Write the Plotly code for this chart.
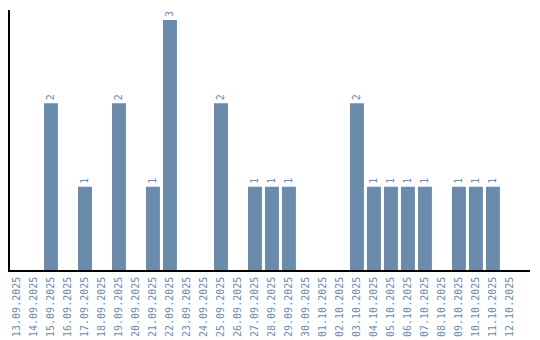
import plotly.graph_objects as go

dates = ["13.09.2025", "14.09.2025", "15.09.2025", "16.09.2025", "17.09.2025",
         "18.09.2025", "19.09.2025", "20.09.2025", "21.09.2025", "22.09.2025",
         "23.09.2025", "24.09.2025", "25.09.2025", "26.09.2025", "27.09.2025",
         "28.09.2025", "29.09.2025", "30.09.2025", "01.10.2025", "02.10.2025",
         "03.10.2025", "04.10.2025", "05.10.2025", "06.10.2025", "07.10.2025",
         "08.10.2025", "09.10.2025", "10.10.2025", "11.10.2025", "12.10.2025"]
counts = [0, 0, 2, 0, 1, 0, 2, 0, 1, 3, 0, 0, 2, 0, 1, 1, 1, 0, 0, 0,
          2, 1, 1, 1, 1, 0, 1, 1, 1, 0]

color = "#6a8bac"
labels = [str(v) if v > 0 else "" for v in counts]

fig = go.Figure(go.Bar(
    x=list(range(len(dates))), y=counts,
    marker=dict(color=color, line=dict(width=0)),
    width=0.82,
    text=labels, textposition="outside", textangle=-90,
    textfont=dict(family="DejaVu Sans Mono", size=10, color=color),
    cliponaxis=False,
))

fig.update_layout(
    width=540, height=340,
    margin=dict(l=10, r=10, t=10, b=70),
    plot_bgcolor="white", paper_bgcolor="white",
    showlegend=False,
    xaxis=dict(
        tickmode="array", tickvals=list(range(len(dates))), ticktext=dates,
        tickangle=-90, range=[-0.41, 30.18], automargin=False,
        tickfont=dict(family="DejaVu Sans Mono", size=10, color=color),
        showline=True, linecolor="black", linewidth=1.5,
        showgrid=False, zeroline=False, ticks="outside", ticklen=1,
        tickcolor="white",
    ),
    yaxis=dict(
        range=[0, 3.12], showticklabels=False, showgrid=False, zeroline=False,
        showline=True, linecolor="black", linewidth=1.5, ticks="",
        automargin=False,
    ),
)

fig.write_html("out.html")
